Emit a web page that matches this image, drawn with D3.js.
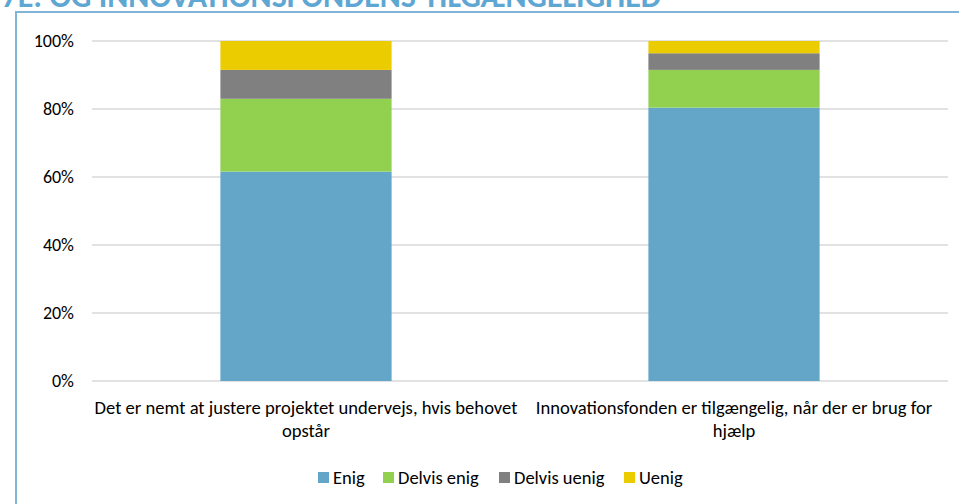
<!DOCTYPE html>
<html><head><meta charset="utf-8">
<script src="https://cdn.jsdelivr.net/npm/d3@7"></script>
<style>
html,body{margin:0;padding:0;background:#fff;overflow:hidden;}
svg{display:block;}
text{font-family:Carlito,Lato,"Open Sans",sans-serif;}
</style></head><body>
<svg id="c" width="959" height="504"></svg>
<script>
const categories = [
  ["Det er nemt at justere projektet undervejs, hvis behovet", "opstår"],
  ["Innovationsfonden er tilgængelig, når der er brug for", "hjælp"]
];
const seriesNames = ["Enig", "Delvis enig", "Delvis uenig", "Uenig"];
const enig = [61.6, 80.4];
const delvisEnig = [21.4, 11.1];
const delvisUenig = [8.5, 4.9];
const uenig = [8.5, 3.6];
const yTicks = [0, 20, 40, 60, 80, 100];
const colors = ["#63a6c8", "#92d050", "#808080", "#ebcc00"];
const titleText = "FIGUR 7E: OG INNOVATIONSFONDENS TILGÆNGELIGHED";

const svg = d3.select("#c");
// title (cut off at top)
svg.append("text").attr("x", 661).attr("y", 7).attr("text-anchor", "end").attr("fill", "#5fa7d3")
  .attr("font-family", "Liberation Sans, Arial, sans-serif").attr("font-weight", "bold")
  .attr("font-size", 32).text(titleText);
// frame
svg.append("rect").attr("x", 16).attr("y", 12).attr("width", 1000).attr("height", 600)
  .attr("fill", "#fff").attr("stroke", "#80b5d8").attr("stroke-width", 2);

const pLeft = 92, pRight = 948, pTop = 41, pBottom = 381;
const x = d3.scaleBand().domain(d3.range(categories.length)).range([pLeft, pRight])
  .paddingInner(0.6).paddingOuter(0.3);
const y = d3.scaleLinear().domain([0, 100]).range([pBottom, pTop]);

// gridlines
svg.append("g").selectAll("line").data(yTicks).join("line")
  .attr("x1", pLeft).attr("x2", pRight).attr("y1", d => y(d)).attr("y2", d => y(d))
  .attr("stroke", "#d9d9d9").attr("stroke-width", 1.3);

// y axis labels
const yAxis = d3.axisLeft(y).tickValues(yTicks).tickFormat(d => d + "%").tickSize(0).tickPadding(0);
const ya = svg.append("g").attr("transform", `translate(${pLeft - 18},0)`).call(yAxis);
ya.select(".domain").remove();
ya.selectAll("text").attr("font-family", "Carlito,Lato,sans-serif").attr("font-size", 18).attr("fill", "#000");

// stacked bars
const rows = categories.map((c, i) => ({
  i, "Enig": enig[i], "Delvis enig": delvisEnig[i], "Delvis uenig": delvisUenig[i], "Uenig": uenig[i]
}));
const stack = d3.stack().keys(seriesNames)(rows);
svg.append("g").selectAll("g").data(stack).join("g").attr("fill", (d, k) => colors[k])
  .selectAll("rect").data(d => d).join("rect")
  .attr("x", d => x(d.data.i)).attr("width", x.bandwidth())
  .attr("y", d => y(d[1])).attr("height", d => y(d[0]) - y(d[1]));

// category labels
const cg = svg.append("g");
categories.forEach((lines, i) => {
  const t = cg.append("text").attr("text-anchor", "middle").attr("font-size", 18.6).attr("fill", "#000");
  lines.forEach((l, j) => {
    t.append("tspan").attr("x", x(i) + x.bandwidth() / 2).attr("y", 414 + j * 23).text(l);
  });
});

// legend
const lx = [318, 383, 499, 624];
const lg = svg.append("g");
seriesNames.forEach((s, k) => {
  lg.append("rect").attr("x", lx[k]).attr("y", 472).attr("width", 11).attr("height", 11).attr("fill", colors[k]);
  lg.append("text").attr("x", lx[k] + 15).attr("y", 484).attr("font-size", 18.5).attr("fill", "#000").text(s);
});
</script>
</body></html>
